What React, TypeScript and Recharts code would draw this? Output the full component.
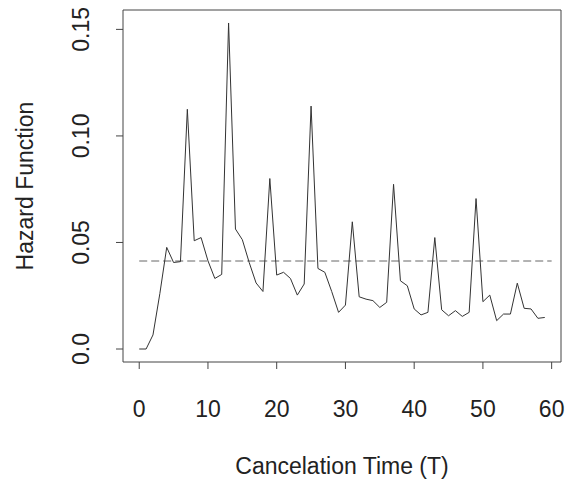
import { LineChart, Line, XAxis, YAxis, ReferenceLine, ReferenceArea } from 'recharts';

const times = [
  0, 1, 2, 3, 4, 5, 6, 7, 8, 9, 10, 11, 12, 13, 14, 15, 16, 17, 18, 19,
  20, 21, 22, 23, 24, 25, 26, 27, 28, 29, 30, 31, 32, 33, 34, 35, 36, 37, 38, 39,
  40, 41, 42, 43, 44, 45, 46, 47, 48, 49, 50, 51, 52, 53, 54, 55, 56, 57, 58, 59,
];

const hazard = [
  0, 0, 0.0066, 0.026, 0.0477, 0.0406, 0.041, 0.1125, 0.0508, 0.0523,
  0.0414, 0.0331, 0.035, 0.153, 0.0563, 0.0513, 0.0406, 0.031, 0.027, 0.08,
  0.0347, 0.036, 0.0331, 0.0253, 0.0305, 0.114, 0.0378, 0.036, 0.027, 0.0172,
  0.0206, 0.0597, 0.0245, 0.0234, 0.0227, 0.0195, 0.0219, 0.0773, 0.032, 0.0297,
  0.0188, 0.016, 0.0172, 0.0523, 0.0184, 0.0156, 0.018, 0.0153, 0.0172, 0.0706,
  0.0222, 0.0253, 0.0133, 0.0164, 0.0164, 0.0309, 0.0191, 0.0188, 0.0144, 0.0148,
];

const meanHazard = 0.0413;

const xTicks = [0, 10, 20, 30, 40, 50, 60];
const yTicks = [0, 0.05, 0.1, 0.15];
const yLabels = ['0.0', '0.05', '0.10', '0.15'];

const data = times.map((t, i) => ({ t, h: hazard[i] }));

const font = '"Liberation Sans", Arial, sans-serif';
const ink = '#222';
const size = 23;

const XTick = (props: any) => {
  const { x, payload } = props;
  return (
    <text x={x} y={417} textAnchor="middle" fontSize={size} fontFamily={font} fill={ink}>
      {payload.value}
    </text>
  );
};

const YTick = (props: any) => {
  const { y, payload } = props;
  const label = yLabels[yTicks.indexOf(payload.value)] ?? String(payload.value);
  return (
    <text
      x={89}
      y={y}
      transform={`rotate(-90, 89, ${y})`}
      textAnchor="middle"
      fontSize={size}
      fontFamily={font}
      fill={ink}
    >
      {label}
    </text>
  );
};

// axis title on the left, centred on the plot box
const YTitle = () => (
  <text
    x={33}
    y={186}
    transform="rotate(-90, 33, 186)"
    textAnchor="middle"
    fontSize={size}
    fontFamily={font}
    fill={ink}
  >
    Hazard Function
  </text>
);

export default function App() {
  return (
    <div style={{ position: 'fixed', left: 0, top: 0, width: 566, height: 480, background: '#fff' }}>
      <LineChart width={566} height={480} data={data} margin={{ top: 10, right: 5, left: 0, bottom: 0 }}>
        <XAxis
          dataKey="t"
          type="number"
          domain={[-2.36, 61.36]}
          ticks={xTicks}
          axisLine={false}
          tickLine={{ stroke: '#444' }}
          tickSize={7}
          height={118}
          tick={<XTick />}
          interval={0}
          label={{
            value: 'Cancelation Time (T)',
            position: 'insideBottom',
            offset: 6,
            fontSize: size,
            fontFamily: font,
            fill: ink,
          }}
        />
        <YAxis
          type="number"
          domain={[-0.0061, 0.1591]}
          ticks={yTicks}
          axisLine={false}
          tickLine={{ stroke: '#444' }}
          tickSize={7}
          width={123}
          tick={<YTick />}
          interval={0}
          allowDataOverflow
          label={{ content: () => <YTitle /> }}
        />
        <ReferenceArea
          x1={-2.36}
          x2={61.36}
          y1={-0.0061}
          y2={0.1591}
          fill="none"
          stroke="#444"
          strokeWidth={1}
          ifOverflow="visible"
        />
        <ReferenceLine
          segment={[{ x: 0, y: meanHazard }, { x: 60, y: meanHazard }]}
          stroke="#666"
          strokeDasharray="8 4"
          strokeWidth={1}
        />
        <Line
          dataKey="h"
          type="linear"
          stroke="#333"
          strokeWidth={1}
          dot={false}
          isAnimationActive={false}
        />
      </LineChart>
    </div>
  );
}
